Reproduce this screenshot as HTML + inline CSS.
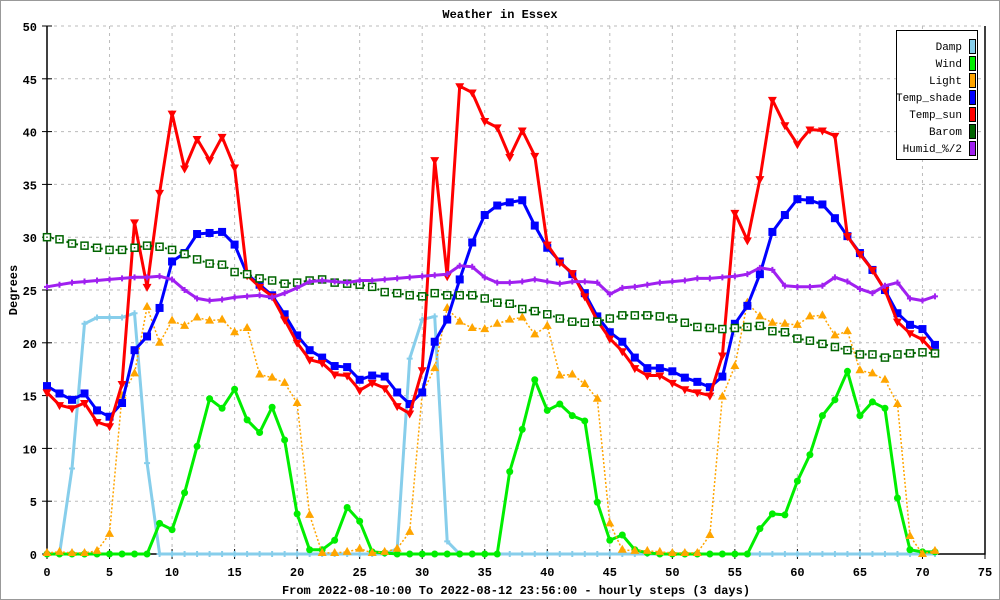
<!DOCTYPE html>
<html><head><meta charset="utf-8"><style>
html,body{margin:0;padding:0;background:#fff}
svg{display:block}
text{font-family:"Liberation Mono",monospace;font-size:12px;font-weight:bold;fill:#000}
</style></head><body>
<svg id="chart" width="1000" height="600" xmlns="http://www.w3.org/2000/svg">
<rect x="0.5" y="0.5" width="999" height="599" fill="#fff" stroke="#999" stroke-width="1"/>
<text x="500" y="18" text-anchor="middle">Weather in Essex</text>
<text x="516" y="594" text-anchor="middle">From 2022-08-10:00 To 2022-08-12 23:56:00 - hourly steps (3 days)</text>
<text transform="translate(17,290) rotate(-90)" text-anchor="middle">Degrees</text>
<g id="grid"></g>
<g id="axes"></g>
<g id="series"></g>
<g id="legend">
<rect x="896.5" y="30.5" width="81" height="129" fill="#fff" stroke="#000" stroke-width="1"/>
</g>
</svg>
<script>
const xTicks=[0,5,10,15,20,25,30,35,40,45,50,55,60,65,70,75];
const yTicks=[0,5,10,15,20,25,30,35,40,45,50];
const damp=[0,0,8.1,21.8,22.4,22.4,22.4,22.8,8.6,0,0,0,0,0,0,0,0,0,0,0,0,0,0,0,0,0,0,0,0.5,18.5,22.2,22.5,1.2,0,0,0,0,0,0,0,0,0,0,0,0,0,0,0,0,0,0,0,0,0,0,0,0,0,0,0,0,0,0,0,0,0,0,0,0,0,0,0];
const wind=[0,0,0,0,0,0,0,0,0,2.9,2.3,5.8,10.2,14.7,13.8,15.6,12.7,11.5,13.9,10.8,3.8,0.4,0.4,1.3,4.4,3.1,0.2,0.1,0,0,0,0,0,0,0,0,0,7.8,11.8,16.5,13.6,14.2,13.1,12.6,4.9,1.3,1.8,0.4,0.1,0,0,0,0,0,0,0,0,2.4,3.8,3.7,6.9,9.4,13.1,14.6,17.3,13.1,14.4,13.8,5.3,0.4,0.2,0.2];
const light=[0.1,0.2,0.1,0.1,0.3,1.9,15.0,17.1,23.4,20.0,22.1,21.6,22.4,22.1,22.2,21.0,21.4,17.0,16.7,16.2,14.3,3.7,0.1,0.1,0.2,0.5,0.1,0.2,0.5,2.1,15.2,17.6,23.3,22.0,21.4,21.3,21.8,22.2,22.4,20.8,21.6,16.9,17.0,16.1,14.7,2.9,0.4,0.3,0.3,0.2,0.1,0.1,0.1,1.8,14.9,17.8,23.8,22.5,21.9,21.8,21.7,22.5,22.6,20.7,21.1,17.4,17.1,16.5,14.2,1.7,0,0.3];
const tempShade=[15.9,15.2,14.6,15.2,13.6,13.0,14.3,19.3,20.6,23.3,27.7,28.5,30.3,30.4,30.5,29.3,26.5,25.5,24.5,22.7,20.7,19.3,18.6,17.8,17.7,16.5,16.9,16.8,15.3,14.2,15.3,20.1,22.2,26.0,29.5,32.1,33.0,33.3,33.5,31.1,29.0,27.7,26.5,24.7,22.5,21.0,20.1,18.6,17.6,17.6,17.3,16.7,16.3,15.8,16.8,21.8,23.5,26.5,30.5,32.1,33.6,33.5,33.1,31.8,30.1,28.5,26.9,25.0,22.8,21.7,21.3,19.8];
const tempSun=[15.3,14.1,13.8,14.3,12.5,12.1,16.1,31.4,25.3,34.2,41.7,36.5,39.3,37.3,39.5,36.6,26.4,25.3,24.4,22.2,20.0,18.4,18.1,17.0,16.9,15.5,16.2,15.7,14.0,13.3,17.4,37.3,26.3,44.3,43.7,41.0,40.4,37.6,40.1,37.7,29.3,27.6,26.6,24.4,22.1,20.4,19.2,17.6,16.9,16.9,16.2,15.6,15.3,15.0,18.8,32.3,29.7,35.5,43.0,40.6,38.8,40.2,40.1,39.6,30.1,28.4,26.9,25.0,22.0,20.9,20.3,19.0];
const barom=[30.0,29.8,29.4,29.2,29.0,28.8,28.8,29.0,29.2,29.1,28.8,28.4,27.9,27.5,27.4,26.7,26.5,26.1,25.9,25.6,25.7,25.9,26.0,25.7,25.6,25.5,25.3,24.8,24.7,24.5,24.4,24.7,24.5,24.5,24.5,24.2,23.8,23.7,23.2,23.0,22.7,22.3,22.0,21.9,22.0,22.3,22.6,22.6,22.6,22.5,22.3,21.9,21.5,21.4,21.3,21.4,21.5,21.6,21.1,21.0,20.4,20.2,19.9,19.6,19.3,18.9,18.9,18.6,18.9,19.0,19.1,19.0];
const humid=[25.3,25.5,25.7,25.8,25.9,26.0,26.1,26.2,26.2,26.3,26.0,25.0,24.2,24.0,24.1,24.3,24.4,24.5,24.3,24.7,25.2,25.8,25.9,25.8,25.7,25.9,25.9,26.0,26.1,26.2,26.3,26.4,26.5,27.3,27.2,26.2,25.7,25.7,25.8,26.0,25.8,25.6,25.8,25.8,25.7,24.6,25.2,25.3,25.5,25.7,25.8,25.9,26.1,26.1,26.2,26.3,26.5,27.1,26.9,25.4,25.3,25.3,25.4,26.2,25.8,25.1,24.7,25.4,25.7,24.2,24.0,24.4];
const legendLabels=["Damp","Wind","Light","Temp_shade","Temp_sun","Barom","Humid_%/2"];

const NS="http://www.w3.org/2000/svg";
const L=47,R=985,T=26,B=554,XMAX=75,YMAX=50;
function xs(v){return L+(v/XMAX)*(R-L);}
function ys(v){return B-(v/YMAX)*(B-T);}
function mk(tag,attrs,parent){const e=document.createElementNS(NS,tag);for(const k in attrs)e.setAttribute(k,attrs[k]);parent.appendChild(e);return e;}
const grid=document.getElementById('grid'),axes=document.getElementById('axes'),series=document.getElementById('series'),legend=document.getElementById('legend');

xTicks.forEach(t=>{
  const x=xs(t);
  if(t>0&&t<XMAX){const g=mk('line',{x1:x,y1:T,x2:x,y2:B,stroke:'#bbb','stroke-dasharray':'3,4'},grid);
  
  }
  const tk=mk('line',{x1:x,y1:B-5,x2:x,y2:B+5,stroke:'#000'},axes);
  
  
  const lb=mk('text',{x:x,y:B+22,'text-anchor':'middle'},axes);lb.textContent=t;
  
  
});
yTicks.forEach(t=>{
  const y=ys(t);
  if(t>0){const g=mk('line',{x1:L,y1:y,x2:R,y2:y,stroke:'#bbb','stroke-dasharray':'3,4'},grid);
  
  }
  const tk=mk('line',{x1:L-5,y1:y,x2:L+5,y2:y,stroke:'#000'},axes);
  
  
  const lb=mk('text',{x:37,y:y+5,'text-anchor':'end'},axes);lb.textContent=t;
  
  
});
const ax1=mk('path',{d:`M${L},${T} V${B} H${R} V${T}`,fill:'none',stroke:'#000','stroke-width':1.5},axes);



function marker(type,x,y,color,g){
  let e;
  if(type==='circle')e=mk('circle',{cx:x,cy:y,r:3.5,fill:color},g);
  else if(type==='up')e=mk('polygon',{points:`${x},${y-5} ${x-4.5},${y+3} ${x+4.5},${y+3}`,fill:color},g);
  else if(type==='down')e=mk('polygon',{points:`${x},${y+5} ${x-4.5},${y-3} ${x+4.5},${y-3}`,fill:color},g);
  else if(type==='square')e=mk('rect',{x:x-4,y:y-4,width:8,height:8,fill:color},g);
  else if(type==='osquare'){e=mk('rect',{x:x-3.5,y:y-3.5,width:7,height:7,fill:'#fff',stroke:color,'stroke-width':1.5},g);mk('rect',{x:x-0.7,y:y-0.7,width:1.4,height:1.4,fill:color},g);}
  else if(type==='plus')e=mk('path',{d:`M${x-3},${y}H${x+3}M${x},${y-3}V${y+3}`,stroke:color,'stroke-width':2},g);
  return e;
}
const defs=[
 {name:'damp',data:damp,color:'#87ceeb',w:3,dash:null,m:'plus'},
 {name:'wind',data:wind,color:'#00ee00',w:3,dash:null,m:'circle'},
 {name:'light',data:light,color:'#ffa500',w:1.5,dash:'2,2',m:'up'},
 {name:'temp-shade',data:tempShade,color:'#0000ff',w:3,dash:null,m:'square'},
 {name:'temp-sun',data:tempSun,color:'#ff0000',w:3,dash:null,m:'down'},
 {name:'barom',data:barom,color:'#006400',w:2,dash:'2,3',m:'osquare'},
 {name:'humid',data:humid,color:'#a020f0',w:3,dash:null,m:'plus'}
];
defs.forEach(s=>{
  const g=mk('g',{},series);
  
  
  const d=s.data.map((v,i)=>(i?'L':'M')+xs(i).toFixed(1)+','+ys(v).toFixed(1)).join(' ');
  const p=mk('path',{d:d,fill:'none',stroke:s.color,'stroke-width':s.w,'stroke-linejoin':'round'},g);
  if(s.dash)p.setAttribute('stroke-dasharray',s.dash);
  
  
  s.data.forEach((v,i)=>{
    const e=marker(s.m,xs(i),ys(v),s.color,g);
    
    
  });
});
legendLabels.forEach((lab,i)=>{
  const y=46+i*17;
  const t=mk('text',{x:962,y:y+4,'text-anchor':'end',style:'font-weight:normal;font-size:11px'},legend);
  t.textContent=lab;
  
  
  const r=mk('rect',{x:969.5,y:y-6.5,width:6,height:14,fill:defs[i].color,stroke:'#000','stroke-width':1},legend);
  
  
});
</script>
</body></html>
